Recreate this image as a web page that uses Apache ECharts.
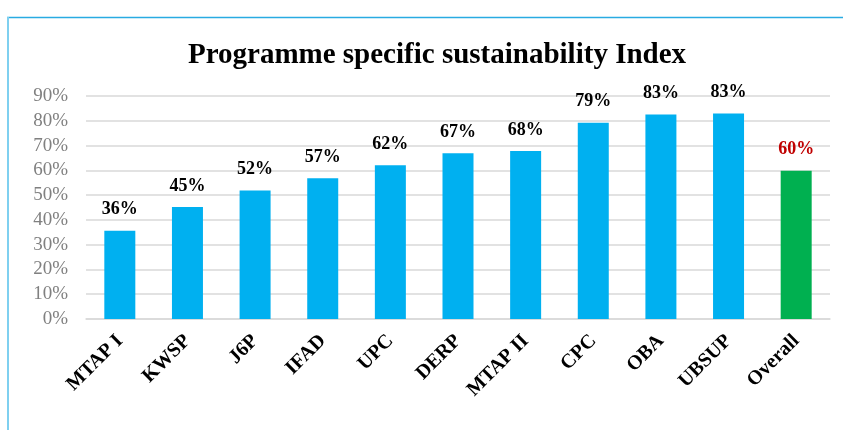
<!DOCTYPE html>
<html>
<head>
<meta charset="utf-8">
<script src="https://cdn.jsdelivr.net/npm/echarts@6/dist/echarts.min.js"></script>
<style>
  html, body { margin: 0; padding: 0; background: #fff; }
  #chart { width: 843px; height: 430px; }
</style>
</head>
<body>
<div id="chart"></div>
<script>
const categories = ['MTAP I', 'KWSP', 'J6P', 'IFAD', 'UPC', 'DERP', 'MTAP II', 'CPC', 'OBA', 'UBSUP', 'Overall']
const values = [35.6, 45.2, 51.9, 56.8, 62.1, 66.9, 67.8, 79.2, 82.5, 82.9, 59.8]
const labels = ['36%', '45%', '52%', '57%', '62%', '67%', '68%', '79%', '83%', '83%', '60%']
const yTicks = [0, 10, 20, 30, 40, 50, 60, 70, 80, 90]

const BLUE = '#00b0f0'
const GREEN = '#00b050'
const serif = '"Liberation Serif", "DejaVu Serif", serif'

const chart = echarts.init(document.getElementById('chart'))

const barData = values.map((v, i) => {
  const overall = categories[i] === 'Overall'
  return {
    value: v,
    itemStyle: { color: overall ? GREEN : BLUE },
    label: { color: overall ? '#c00000' : '#000' },
  }
})

chart.setOption({
  animation: false,
  title: {
    text: 'Programme specific sustainability Index',
    left: 432,
    top: 36,
    textAlign: 'center',
    textStyle: { fontFamily: serif, fontWeight: 'bold', fontSize: 29, color: '#000' },
  },
  grid: { left: 86, right: 13, top: 96, bottom: 111 },
  xAxis: {
    type: 'category',
    data: categories,
    axisLine: { lineStyle: { color: '#d9d9d9', width: 1.5 } },
    axisTick: { show: false },
    axisLabel: {
      rotate: 45,
      interval: 0,
      margin: 19,
      fontFamily: serif,
      fontWeight: 'bold',
      fontSize: 20,
      color: '#000',
    },
  },
  yAxis: {
    type: 'value',
    min: 0,
    max: yTicks[yTicks.length - 1],
    interval: 10,
    axisLine: { show: false },
    axisTick: { show: false },
    splitLine: { lineStyle: { color: '#d9d9d9', width: 1.5 } },
    axisLabel: {
      margin: 18,
      fontFamily: serif,
      fontSize: 19,
      color: '#808080',
      formatter: v => v + '%',
    },
  },
  series: [{
    type: 'bar',
    data: barData,
    barWidth: 31,
    label: {
      show: true,
      position: 'top',
      distance: 12,
      fontFamily: serif,
      fontWeight: 'bold',
      fontSize: 18,
      formatter: p => labels[p.dataIndex],
    },
  }],
  graphic: [
    { type: 'line', shape: { x1: 7, y1: 17.5, x2: 843, y2: 17.5 }, style: { stroke: '#29abe2', lineWidth: 1.5 } },
    { type: 'line', shape: { x1: 8, y1: 17, x2: 8, y2: 430 }, style: { stroke: '#7fd0f0', lineWidth: 2 } },
  ],
})
</script>
</body>
</html>
